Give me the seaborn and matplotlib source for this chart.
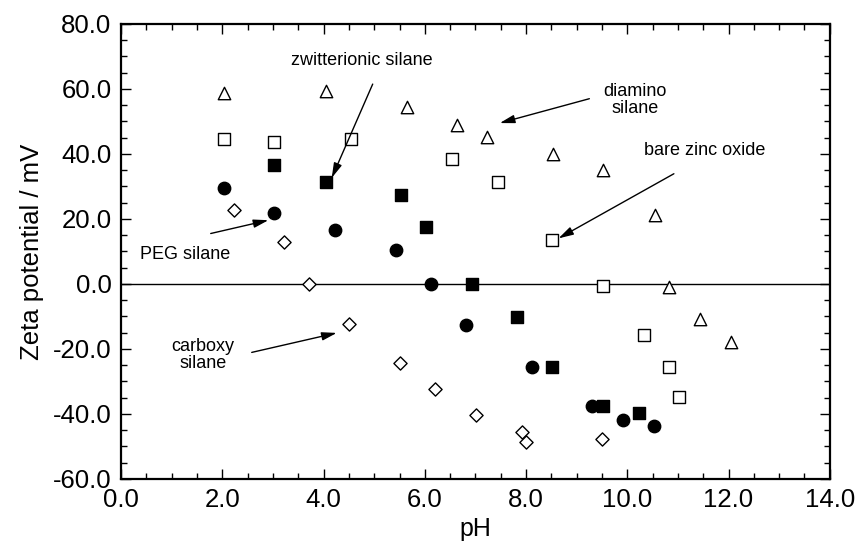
import numpy as np
import pandas as pd
import matplotlib
matplotlib.use("Agg")
import matplotlib.pyplot as plt
import seaborn as sns
from matplotlib.ticker import MultipleLocator, FormatStrFormatter

# zeta potential vs pH for the surface treatments
zno_ph = [2.03, 3.02, 4.54, 6.54, 7.44, 8.52, 9.52, 10.33, 10.82, 11.03]
zno_zeta = [44.7, 43.6, 44.6, 38.5, 31.3, 13.4, -0.6, -15.8, -25.7, -34.7]

diamino_ph = [2.03, 4.04, 5.64, 6.64, 7.23, 8.54, 9.52, 10.55, 10.82, 11.43, 12.04]
diamino_zeta = [58.7, 59.5, 54.3, 49.0, 45.1, 40.0, 34.9, 21.2, -0.9, -10.8, -17.8]

zwit_ph = [3.02, 4.04, 5.53, 6.02, 6.93, 7.82, 8.52, 9.52, 10.23]
zwit_zeta = [36.5, 31.4, 27.5, 17.5, 0.0, -10.3, -25.5, -37.7, -39.8]

peg_ph = [2.03, 3.02, 4.23, 5.43, 6.12, 6.81, 8.12, 9.31, 9.91, 10.53]
peg_zeta = [29.6, 21.8, 16.6, 10.5, 0.0, -12.6, -25.5, -37.7, -41.8, -43.8]

carb_ph = [2.23, 3.22, 3.71, 4.51, 5.51, 6.21, 7.01, 7.91, 8.0, 9.5]
carb_zeta = [22.7, 13.0, 0.0, -12.3, -24.5, -32.4, -40.4, -45.6, -48.7, -47.7]

sns.set_style("ticks")
plt.rcParams['font.family'] = ['Liberation Sans', 'DejaVu Sans']
plt.rcParams['text.color'] = 'black'
plt.rcParams['axes.labelcolor'] = 'black'
plt.rcParams['xtick.color'] = 'black'
plt.rcParams['ytick.color'] = 'black'

fig = plt.figure(figsize=(8.59, 5.58), dpi=100)
ax = fig.add_axes([0.141, 0.142, 0.825, 0.815])

series = [
    (zno_ph, zno_zeta, "s", "white", 80),
    (diamino_ph, diamino_zeta, "^", "white", 80),
    (zwit_ph, zwit_zeta, "s", "black", 75),
    (peg_ph, peg_zeta, "o", "black", 80),
    (carb_ph, carb_zeta, "D", "white", 45),
]
for xs, ys, mk, fc, sz in series:
    df = pd.DataFrame({"pH": xs, "zeta": ys})
    sns.scatterplot(data=df, x="pH", y="zeta", marker=mk, s=sz,
                    facecolor=fc, edgecolor="black", linewidth=1.0,
                    ax=ax, zorder=3)

ax.axhline(0, color="black", lw=1.0, zorder=1)

ax.set_xlim(0, 14)
ax.set_ylim(-60, 80)
ax.xaxis.set_major_locator(MultipleLocator(2))
ax.xaxis.set_minor_locator(MultipleLocator(0.5))
ax.yaxis.set_major_locator(MultipleLocator(20))
ax.yaxis.set_minor_locator(MultipleLocator(5))
ax.xaxis.set_major_formatter(FormatStrFormatter("%.1f"))
ax.yaxis.set_major_formatter(FormatStrFormatter("%.1f"))
ax.tick_params(which="both", direction="in", top=True, right=True,
               color="black", width=1.0)
ax.tick_params(which="major", length=7, labelsize=18.5, pad=7)
ax.tick_params(which="minor", length=4)
for sp in ax.spines.values():
    sp.set_linewidth(1.6)
    sp.set_color("black")

ax.set_xlabel("pH", fontsize=18, labelpad=3)
ax.set_ylabel("Zeta potential / mV", fontsize=18.5, labelpad=6)

# callouts
arrow = dict(arrowstyle="-|>,head_length=0.9,head_width=0.25",
             color="black", lw=1.0, shrinkA=0, shrinkB=0)
labels = [
    ("zwitterionic silane", 4.76, 68.8, (4.97, 61.5), (4.16, 32.6)),
    ("diamino\nsilane", 10.15, 56.5, (9.25, 57.0), (7.48, 49.5)),
    ("bare zinc oxide", 11.53, 41.0, (10.92, 33.9), (8.64, 14.0)),
    ("PEG silane", 1.26, 9.1, (1.77, 15.5), (2.91, 19.6)),
    ("carboxy\nsilane", 1.62, -21.8, (2.58, -21.1), (4.26, -15.1)),
]
for txt, tx, ty, start, tip in labels:
    ax.text(tx, ty, txt, ha="center", va="center", fontsize=13,
            linespacing=1.0)
    ax.annotate("", xy=tip, xytext=start, arrowprops=arrow)

fig.savefig("out.png", dpi=100)
